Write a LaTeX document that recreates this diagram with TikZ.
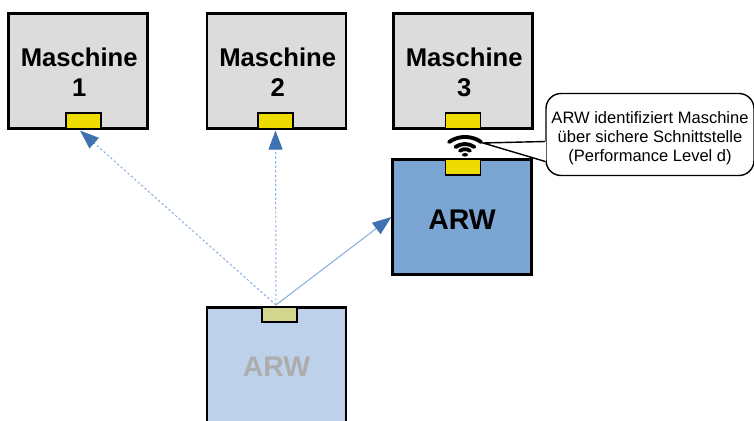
\documentclass[tikz,border=0pt]{standalone}
\usepackage{fontspec}
\setmainfont{Liberation Sans}
\usetikzlibrary{arrows.meta, calc}
\definecolor{machine}{RGB}{220,220,220}
\definecolor{arw}{RGB}{123,166,212}
\definecolor{arwfaded}{RGB}{189,209,234}
\definecolor{tagyellow}{RGB}{238,220,0}
\definecolor{tagfaded}{RGB}{210,214,143}
\definecolor{linkblue}{RGB}{130,170,220}
\definecolor{tipblue}{RGB}{62,114,176}
\newcommand{\machinelabel}[1]{\hspace*{1.4pt}\rule{0pt}{12pt}Maschine\\\hspace*{1.4pt}#1}

\begin{document}
\begin{tikzpicture}[x=0.02cm, y=-0.02cm]
% TikZ styles
\tikzset{
  machinebox/.style={rectangle, draw=black, fill=machine, line width=1.3pt, minimum width=2.78cm, minimum height=2.3cm, align=center, font=\bfseries\fontsize{14.6}{17}\selectfont, inner sep=0pt},
  arwbox/.style={machinebox, fill=arw, font=\bfseries\fontsize{16.2}{19}\selectfont, text height=13.9pt},
  fadedbox/.style={arwbox, fill=arwfaded, text=black!32, text height=12.6pt},
  tagbox/.style={rectangle, draw=black, fill=tagyellow, line width=0.9pt, minimum width=0.7cm, minimum height=0.31cm, inner sep=0pt},
  link/.style={draw=linkblue, line width=0.55pt, -{Triangle[length=0.38cm, width=0.28cm, color=tipblue]}},
  dashedlink/.style={link, dash pattern=on 1.3pt off 1.3pt},
  waves/.style={line width=2.2pt, line cap=round},
  note/.style={rectangle, draw=black, fill=white, rounded corners=0.3cm, line width=0.8pt, minimum width=4.16cm, minimum height=1.64cm, align=center, font=\fontsize{9.4}{11}\selectfont, inner sep=0pt}
};
\clip (0,0) rectangle (754,421);

%==========================
% Maschinen
%==========================
\node[machinebox] (machineone) at (78,71) {\machinelabel{1}};
\node[machinebox] (machinetwo) at (276.5,71) {\machinelabel{2}};
\node[machinebox] (machinethree) at (463,71) {\machinelabel{3}};
\node[tagbox] (tagone) at (83.5,121) {};
\node[tagbox] (tagtwo) at (275.5,121) {};
\node[tagbox] (tagthree) at (463,121) {};

%==========================
% ARW
%==========================
\node[arwbox] (arwnew) at (462,217) {ARW};
\node[tagbox] (tagarw) at (463,167) {};
\node[fadedbox] (arwold) at (276.5,365) {ARW};
\node[tagbox, fill=tagfaded] (tagold) at (279.5,314.5) {};
\coordinate (sender) at ($(tagold.north)+(-3.5,-1)$);

% === Pfeile ===
\draw[dashedlink] (sender) -- ($(tagone.south)+(-3.5,1)$);
\draw[dashedlink] (sender) -- ($(tagtwo.south)+(0,1)$);
\draw[link] (sender) -- (arwnew.west);

%==========================
% Funk und Hinweis
%==========================
\coordinate (wifi) at (465,137);
\draw[waves] ($(wifi)+(-16,5)$) arc[start angle=235, end angle=305, radius=28];
\draw[waves] ($(wifi)+(-9.5,10)$) arc[start angle=235, end angle=305, radius=16.5];
\draw[waves] ($(wifi)+(-5,13.8)$) arc[start angle=235, end angle=305, radius=8.7];
\fill ($(wifi)+(0,17.8)$) ellipse[x radius=3, y radius=1.8];

\node[note] (hint) at (650,134.5) {\rule{0pt}{11pt}ARW identifiziert Maschine\\über sichere Schnittstelle\\(Performance Level d)};
\coordinate (hinttip) at (483,143);
\coordinate (tailtop) at ($(hint.west)+(0,7)$);
\coordinate (tailbottom) at ($(hint.west)+(0,27)$);
\fill[white] (tailtop) -- (hinttip) -- (tailbottom) -- cycle;
\draw[white, line width=1.2pt] (tailtop) -- (tailbottom);
\draw[black, line width=0.8pt] (tailtop) -- (hinttip) -- (tailbottom);

\end{tikzpicture}
\end{document}
